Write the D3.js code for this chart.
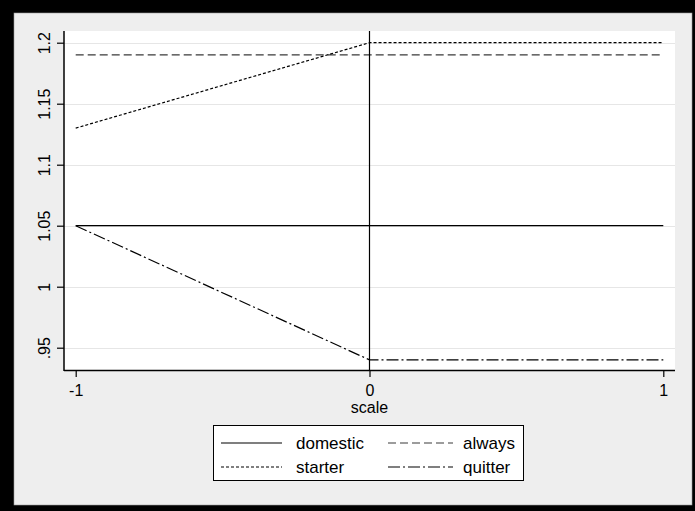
<!DOCTYPE html>
<html>
<head>
<meta charset="utf-8">
<script src="https://cdn.jsdelivr.net/npm/d3@7"></script>
<style>
  body { margin: 0; background: #000; }
  text { font-family: "Liberation Sans", Arial, sans-serif; fill: #000; }
</style>
</head>
<body>
<script>
// Stata-style line plot: four groups across the scale

// data
var xValues = [-1, 0, 1];
var domestic = [1.05, 1.05, 1.05];
var always = [1.19, 1.19, 1.19];
var starter = [1.13, 1.20, 1.20];
var quitter = [1.05, 0.94, 0.94];
var yTicks = [0.95, 1, 1.05, 1.1, 1.15, 1.2];
var yTickLabels = [".95", "1", "1.05", "1.1", "1.15", "1.2"];
var xTicks = [-1, 0, 1];
var xTickLabels = ["-1", "0", "1"];
var xTitle = "scale";
var seriesNames = ["domestic", "always", "starter", "quitter"];

var series = [
  {name: "domestic", values: domestic, dash: null, color: "#000"},
  {name: "always", values: always, dash: "8,4", color: "#3a3a3a"},
  {name: "starter", values: starter, dash: "3,2", color: "#000"},
  {name: "quitter", values: quitter, dash: "12,3,2,3", color: "#000"}
];

var W = 695, H = 511;
var plot = {left: 64, top: 31, right: 675, bottom: 370};
var font = "'Liberation Sans', Arial, sans-serif";

var svg = d3.select("body").append("svg")
    .attr("width", W)
    .attr("height", H)
    .style("display", "block");

// frame and background
svg.append("rect").attr("width", W).attr("height", H).attr("fill", "#000");
svg.append("rect")
    .attr("x", 14).attr("y", 13)
    .attr("width", 678).attr("height", 492)
    .attr("fill", "#eeeeee")
    .attr("stroke", "#9a9a9a").attr("stroke-width", 0.6);
svg.append("rect")
    .attr("x", plot.left).attr("y", plot.top)
    .attr("width", plot.right - plot.left).attr("height", plot.bottom - plot.top)
    .attr("fill", "#fff");

// scales
var xScale = d3.scaleLinear().domain([-1, 1]).range([75.7, 663.3]);
var yScale = d3.scaleLinear().domain([0.95, 1.2]).range([347.7, 42.7]);

// gridlines
svg.append("g").selectAll("line")
    .data(yTicks)
    .enter().append("line")
    .attr("x1", plot.left).attr("x2", plot.right)
    .attr("y1", function(d) { return Math.round(yScale(d)) + 0.5; })
    .attr("y2", function(d) { return Math.round(yScale(d)) + 0.5; })
    .attr("stroke", "#e6e6e6")
    .attr("stroke-width", 1.2);

// y axis
var yAxis = d3.axisLeft(yScale)
    .tickValues(yTicks)
    .tickSize(7)
    .tickFormat(function(d, i) { return yTickLabels[i]; });

var gy = svg.append("g")
    .attr("transform", "translate(" + plot.left + ",0)")
    .call(yAxis)
    .attr("font-size", null)
    .attr("font-family", null);
gy.select(".domain").remove();
gy.selectAll(".tick line").attr("stroke", "#000").attr("stroke-width", 1.2);
gy.selectAll(".tick text")
    .attr("x", null)
    .attr("transform", "translate(-20,0) rotate(-90)")
    .attr("text-anchor", "middle")
    .attr("dy", "0.35em")
    .style("font-size", "16px")
    .style("font-family", font);
svg.append("line")
    .attr("x1", plot.left).attr("x2", plot.left)
    .attr("y1", plot.top).attr("y2", plot.bottom + 1)
    .attr("stroke", "#000").attr("stroke-width", 1.5);

// x axis
var xAxis = d3.axisBottom(xScale)
    .tickValues(xTicks)
    .tickSize(7)
    .tickFormat(function(d, i) { return xTickLabels[i]; });

var gx = svg.append("g")
    .attr("transform", "translate(0," + plot.bottom + ")")
    .call(xAxis)
    .attr("font-size", null)
    .attr("font-family", null);
gx.select(".domain").remove();
gx.selectAll(".tick line").attr("stroke", "#000").attr("stroke-width", 1.2);
gx.selectAll(".tick text")
    .attr("y", 15)
    .style("font-size", "16px")
    .style("font-family", font);
svg.append("line")
    .attr("x1", plot.left).attr("x2", plot.right)
    .attr("y1", plot.bottom + 0.5).attr("y2", plot.bottom + 0.5)
    .attr("stroke", "#000").attr("stroke-width", 1.5);

svg.append("text")
    .attr("x", xScale(0))
    .attr("y", 413)
    .attr("text-anchor", "middle")
    .style("font-size", "16px")
    .text(xTitle);

// lines
var line = d3.line()
    .x(function(d, i) { return xScale(xValues[i]); })
    .y(function(d) { return yScale(d); });

svg.append("g").selectAll("path")
    .data(series)
    .enter().append("path")
    .attr("d", function(s) { return line(s.values); })
    .attr("fill", "none")
    .attr("stroke", function(s) { return s.color; })
    .attr("stroke-width", 1.2)
    .attr("stroke-dasharray", function(s) { return s.dash; });

// vertical line at 0
svg.append("line")
    .attr("x1", xScale(0)).attr("x2", xScale(0))
    .attr("y1", plot.top).attr("y2", plot.bottom)
    .attr("stroke", "#000").attr("stroke-width", 1.2);

// legend
var legend = svg.append("g");
legend.append("rect")
    .attr("x", 213.5).attr("y", 425.5)
    .attr("width", 310).attr("height", 55)
    .attr("fill", "#fff")
    .attr("stroke", "#000").attr("stroke-width", 1);

var legendPos = [
  {x1: 221, x2: 282, tx: 296, y: 443},
  {x1: 388, x2: 453, tx: 463, y: 443},
  {x1: 221, x2: 282, tx: 296, y: 467},
  {x1: 388, x2: 453, tx: 463, y: 467}
];

var items = legend.selectAll(".item")
    .data(series)
    .enter().append("g")
    .attr("class", "item");

items.append("line")
    .attr("x1", function(s, i) { return legendPos[i].x1; })
    .attr("x2", function(s, i) { return legendPos[i].x2; })
    .attr("y1", function(s, i) { return legendPos[i].y; })
    .attr("y2", function(s, i) { return legendPos[i].y; })
    .attr("stroke", function(s) { return s.color; })
    .attr("stroke-width", 1.2)
    .attr("stroke-dasharray", function(s) { return s.dash; });

items.append("text")
    .attr("x", function(s, i) { return legendPos[i].tx; })
    .attr("y", function(s, i) { return legendPos[i].y; })
    .attr("dy", "0.35em")
    .style("font-size", "17px")
    .text(function(s, i) { return seriesNames[i]; });
</script>
</body>
</html>
